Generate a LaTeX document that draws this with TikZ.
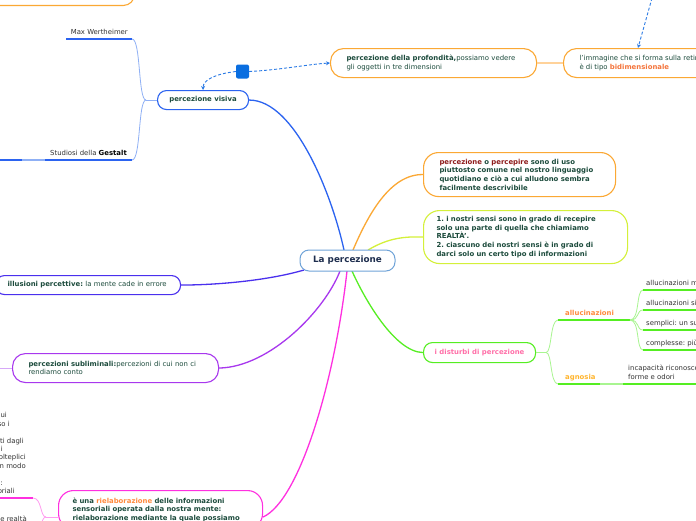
\documentclass[tikz,border=0pt]{standalone}
\usepackage{fontspec}
\setmainfont{DejaVu Sans}
\usetikzlibrary{arrows.meta,backgrounds}
\frenchspacing

\definecolor{inkgreen}{HTML}{1C4B3C}
\definecolor{inkgray}{HTML}{333333}
\definecolor{mapblue}{HTML}{2B63F0}
\definecolor{paleblue}{HTML}{8FB0F5}
\definecolor{maporange}{HTML}{FBA834}
\definecolor{paleorange}{HTML}{FFD29A}
\definecolor{mapyellow}{HTML}{D4F03A}
\definecolor{mapgreen}{HTML}{55EE22}
\definecolor{palegreen}{HTML}{A8F590}
\definecolor{mappurple}{HTML}{A838EE}
\definecolor{palepurple}{HTML}{D6A8F8}
\definecolor{mapindigo}{HTML}{4A30EE}
\definecolor{mapmagenta}{HTML}{FF30E0}
\definecolor{palemagenta}{HTML}{FF9CF0}
\definecolor{centerline}{HTML}{6FA3D8}
\definecolor{centertext}{HTML}{1E2E4E}
\definecolor{darkred}{HTML}{8E1B1B}
\definecolor{hotorange}{HTML}{F4743B}
\definecolor{softorange}{HTML}{FF8A3D}
\definecolor{pinktext}{HTML}{FF6FA8}
\definecolor{ambertext}{HTML}{FFB52E}
\definecolor{dashblue}{HTML}{2C7BE5}
\definecolor{squareblue}{HTML}{0A6EE0}

\tikzset{
  every node/.style={font=\fontsize{6.9}{8.6}\selectfont, text=inkgreen},
  heavy/.style={font=\fontsize{6.9}{8.6}\selectfont\bfseries},
  bubble/.style={draw=#1, line width=1.1pt, fill=white, rounded corners=11pt,
    align=left, anchor=north west, inner ysep=0pt},
  leaf/.style={inner sep=0pt, text=inkgray, anchor=base west},
  stem/.style={draw=#1, line width=1.3pt},
  twig/.style={draw=#1, line width=0.8pt},
  link/.style={draw=dashblue, dash pattern=on 3pt off 2pt, line width=0.9pt,
    -{Stealth[length=4pt,width=4pt]}},
}

\begin{document}
\begin{tikzpicture}[x=1pt,y=-1pt]
\useasboundingbox (0,0) rectangle (696,520);
\clip (0,0) rectangle (696,520);

% main topics
\node[draw=centerline, line width=1pt, fill=white, rounded corners=9pt,
  minimum width=95pt, minimum height=21pt,
  font=\fontsize{8.8}{10}\selectfont\bfseries, text=centertext] (centro) at (347.5,260.5) {La percezione};

\node[bubble=maporange, anchor=south east, minimum width=220pt, minimum height=30pt] (sopra) at (135,6) {};

\node[bubble=mapblue, heavy, align=center, minimum width=91pt, minimum height=19pt,
  inner xsep=0pt, rounded corners=9pt] (visiva) at (157,90) {percezione visiva};

\node[bubble=maporange, minimum height=29pt, rounded corners=13pt, inner xsep=16pt,
  text width=174pt] (profondita) at (330,48)
  {\textbf{percezione della profondità,}possiamo vedere\\gli oggetti in tre dimensioni};

\node[bubble=maporange, minimum height=29pt, rounded corners=13pt, inner xsep=16pt]
  (immagine) at (563,48)
  {l'immagine che si forma sulla retina\\è di tipo \textcolor{hotorange}{\textbf{bidimensionale}}};

\node[bubble=maporange, heavy, minimum height=44pt, rounded corners=15pt, inner xsep=16pt,
  text width=160pt] (percepire) at (423,152)
  {\textcolor{darkred}{percezione} o \textcolor{darkred}{percepire} sono di uso\\
   piuttosto comune nel nostro linguaggio\\
   quotidiano e ciò a cui alludono sembra\\
   facilmente descrivibile};

\node[bubble=mapyellow, heavy, minimum height=53pt, rounded corners=16pt, inner xsep=13pt,
  text width=178pt] (sensi) at (423,210)
  {1. i nostri sensi sono in grado di recepire\\
   solo una parte di quella che chiamiamo\\
   REALTÀ'.\\
   2. ciascuno dei nostri sensi è in grado di\\
   darci solo un certo tipo di informazioni};

\node[bubble=mapgreen, heavy, align=center, text=pinktext, minimum width=112pt,
  minimum height=20pt, inner xsep=0pt, rounded corners=9pt] (disturbi) at (423,342)
  {i disturbi di percezione};

\node[bubble=mapindigo, minimum height=19pt, rounded corners=9pt, inner xsep=12pt,
  text width=161pt] (illusioni) at (-5,275)
  {\textbf{illusioni percettive:} la mente cade in errore};

\node[bubble=mappurple, minimum height=29pt, rounded corners=13pt, inner xsep=16pt,
  text width=174pt] (subliminali) at (12,353)
  {\textbf{percezioni subliminali:}percezioni di cui non ci\\rendiamo conto};

\node[bubble=mapmagenta, heavy, inner ysep=7pt, rounded corners=15pt, inner xsep=14pt,
  text width=176pt] (rielaborazione) at (58,490)
  {è una \textcolor{softorange}{rielaborazione} delle informazioni\\
   sensoriali operata dalla nostra mente:\\
   rielaborazione mediante la quale possiamo};

\node[fill=squareblue, rounded corners=2pt, minimum width=13pt, minimum height=14pt,
  inner sep=0pt] (nota) at (242.5,71.5) {};

% branches from the centre
\begin{pgfonlayer}{background}
\fill[white] (0,0) rectangle (696,520);
\draw[stem=mapblue] (344,250) .. controls (332,195) and (295,100) .. (visiva.east);
\draw[stem=maporange] (353,250) .. controls (368,215) and (390,174) .. (percepire.west);
\draw[stem=mapyellow] (368,250) .. controls (385,240) and (400,236) .. (sensi.west);
\draw[stem=mapgreen] (352,271) .. controls (365,300) and (395,352) .. (disturbi.west);
\draw[stem=mapmagenta] (347,271) .. controls (335,380) and (300,500) .. (rielaborazione.east |- 0,517);
\draw[stem=mappurple] (340,271) .. controls (325,310) and (270,367) .. (subliminali.east);
\draw[stem=mapindigo] (304,270) .. controls (270,280) and (220,285) .. (illusioni.east);
\end{pgfonlayer}

% percezione visiva
\coordinate (maxend) at (132,39);
\coordinate (studend) at (132,160);
\node[leaf, anchor=base east] (wertheimer) at (128,34) {Max Wertheimer};
\node[leaf, anchor=base east] (gestalt) at (127,155.5) {Studiosi della \textbf{\color{black}Gestalt}};
\draw[stem=mapblue] (66,39) -- (maxend);
\draw[stem=mapblue] (0,160) -- (22,160);
\draw[stem=paleblue] (22,160) -- (45,160);
\draw[stem=mapblue] (45,160) -- (studend);
\draw[twig=paleblue] (visiva.west) -- ++(-11,0) coordinate (vfork);
\draw[twig=paleblue] (vfork) .. controls (138,100) and (141,39) .. (maxend);
\draw[twig=paleblue] (vfork) .. controls (138,100) and (141,160) .. (studend);

% dashed links
\coordinate (fuori) at (652,-2);
\draw[link] (nota.west) .. controls (215,74) and (203,80) .. (visiva.north);
\draw[link] (nota.east) .. controls (280,70) and (310,64) .. (profondita.west);
\draw[link] (fuori) -- ([xshift=75pt]immagine.north west);
\draw[stem=paleorange, line width=2pt] (profondita) -- (immagine);

% disturbi di percezione
\coordinate (allstart) at (558,320);
\coordinate (allend) at (630,320);
\coordinate (agnstart) at (558,384);
\node[leaf, heavy, text=softorange] (allucinazioni) at (565,315.5) {allucinazioni};
\node[leaf, heavy, text=ambertext] (agnosia) at (565,379.5) {agnosia};
\draw[twig=palegreen] (disturbi.east) -- ++(10,0) coordinate (dfork);
\draw[twig=palegreen] (dfork) .. controls (552,352) and (550,320) .. (allstart);
\draw[twig=palegreen] (dfork) .. controls (552,352) and (550,384) .. (agnstart);
\draw[stem=mapgreen] (allstart) -- (allend);
\draw[stem=mapgreen] (agnstart) -- (600,384);
\draw[stem=palegreen] (600,384) -- (623,384);
\draw[stem=mapgreen] (623,384) -- (700,384);
\node[leaf] (agnosia1) at (628,370.5) {incapacità riconoscere oggetti,};
\node[leaf] (agnosia2) at (628,379.5) {forme e odori};
\foreach \yy/\tip in {290/allucinazioni monosensoriali, 310/allucinazioni sinestesiche,
    330/semplici: un suono, 350/complesse: più sensi} {
  \draw[twig=palegreen] (allend) .. controls (640,320) and (636,\yy) .. (643,\yy);
  \draw[stem=mapgreen] (643,\yy) -- (700,\yy);
  \node[leaf] at (646,\yy-4.5) {\tip};
}

% left side fragments
\draw[twig=palepurple] (subliminali.west) -- ++(-15,0);
\foreach \xe/\yc/\frag in {7/415/sui, 10/423.5/stesso i, 24/441/raccolti dagli, 3/449/i,
    26/457/molteplici, 26/466/in modo, 3/483/:, 15/491/sensoriali, 27/519/e realtà} {
  \node[leaf, anchor=base east] at (\xe,\yc+2.5) {\frag};
}
\coordinate (rjoin) at (58,517);
\draw[twig=palemagenta] (rjoin) -- (46,517) coordinate (rfork);
\draw[twig=palemagenta] (rfork) .. controls (40,517) and (42,498) .. (33,498);
\draw[twig=palemagenta] (rfork) .. controls (40,517) and (42,536) .. (33,536);
\draw[stem=mapmagenta] (33,498) -- (0,498);
\end{tikzpicture}
\end{document}
